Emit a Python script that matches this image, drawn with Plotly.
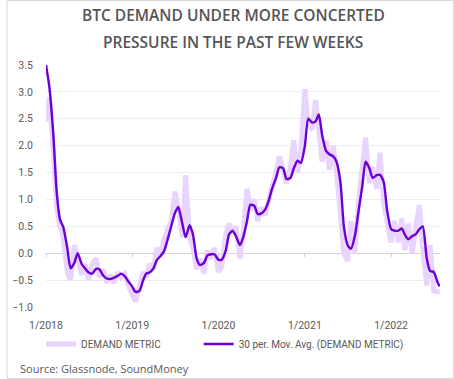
import pandas as pd
import plotly.graph_objects as go

# semi-monthly observation dates (1st and 15th) plus the last reading
dates = list(pd.date_range("2018-01-01", "2022-07-15", freq="SMS").strftime("%Y-%m-%d")) + ["2022-07-25"]

demand_metric = [
    2.45, 2.90, 1.90, 0.85, 0.50, 0.30, -0.35, -0.50, 0.15, -0.10,
    -0.40, -0.20, -0.50, -0.20, -0.10, -0.45, -0.30, -0.55, -0.40, -0.55,
    -0.35, -0.45, -0.38, -0.60, -0.75, -0.90, -0.60, -0.35, -0.45, -0.20,
    -0.30, 0.10, -0.05, 0.25, 0.45, 0.60, 1.15, 0.85, 0.30, 1.45,
    0.30, 0.10, -0.30, -0.10, -0.38, 0.05, -0.10, 0.10, -0.35, -0.25,
    0.35, 0.55, 0.40, 0.50, -0.10, 0.40, 1.20, 0.80, 1.00, 0.60,
    0.85, 0.70, 1.00, 1.20, 1.50, 1.80, 1.50, 1.30, 1.60, 2.10,
    1.50, 1.90, 3.05, 2.40, 2.30, 2.85, 2.30, 1.70, 2.10, 1.55,
    2.00, 1.50, 0.70, 0.00, -0.15, 0.60, 0.00, 0.90, 1.60, 2.15,
    1.30, 1.60, 1.20, 1.87, 0.90, 0.55, 0.20, 0.60, 0.20, 0.65,
    0.05, 0.55, 0.00, 0.50, 0.90, 0.10, -0.60, 0.15, -0.70, -0.72,
    -0.70,
]

moving_avg = [
    3.50, 3.10, 2.20, 1.15, 0.63, 0.49, 0.10, -0.28, -0.18, 0.00,
    -0.20, -0.28, -0.36, -0.38, -0.29, -0.30, -0.42, -0.47, -0.48, -0.46,
    -0.42, -0.38, -0.43, -0.52, -0.62, -0.72, -0.70, -0.52, -0.38, -0.36,
    -0.28, -0.13, -0.05, 0.03, 0.27, 0.50, 0.75, 0.86, 0.55, 0.30,
    0.52, 0.35, -0.10, -0.22, -0.18, -0.04, -0.02, -0.02, -0.12, -0.12,
    0.05, 0.35, 0.42, 0.32, 0.15, 0.30, 0.60, 0.90, 0.88, 0.73,
    0.74, 0.80, 0.98, 1.20, 1.40, 1.60, 1.58, 1.38, 1.40, 1.58,
    1.72, 1.68, 2.00, 2.50, 2.43, 2.45, 2.58, 2.20, 1.90, 1.84,
    1.80, 1.70, 1.30, 0.50, 0.15, 0.08, 0.33, 0.75, 1.25, 1.70,
    1.58, 1.40, 1.45, 1.46, 1.32, 0.80, 0.45, 0.42, 0.42, 0.46,
    0.34, 0.26, 0.32, 0.35, 0.45, 0.50, -0.10, -0.33, -0.35, -0.52,
    -0.62,
]

tick_vals = ["2018-01-01", "2019-01-01", "2020-01-01", "2021-01-01", "2022-01-01"]
tick_text = ["1/2018", "1/2019", "1/2020", "1/2021", "1/2022"]

title_lines = ["BTC DEMAND UNDER MORE CONCERTED", "PRESSURE IN THE PAST FEW WEEKS"]
source_text = "Source: Glassnode, SoundMoney"

GREY = "#595959"
x_range = ["2018-01-01", "2022-07-27"]

fig = go.Figure()
fig.add_trace(go.Scatter(
    x=dates, y=demand_metric, mode="lines", name="DEMAND METRIC",
    line=dict(color="#E8D4FF", width=5), legend="legend",
))
fig.add_trace(go.Scatter(
    x=dates, y=moving_avg, mode="lines", name="30 per. Mov. Avg. (DEMAND METRIC)",
    line=dict(color="#6A00D4", width=2.4, shape="spline", smoothing=0.6), legend="legend2",
))
# invisible helper trace so the tick-mark axis on the zero line is drawn
fig.add_trace(go.Scatter(
    x=dates, y=moving_avg, xaxis="x2", mode="lines", showlegend=False,
    hoverinfo="skip", line=dict(width=0, color="rgba(0,0,0,0)"),
))

legend_common = dict(
    orientation="h", xanchor="left", y=-0.153, yanchor="middle",
    font=dict(family="Roboto", size=10, color=GREY),
    itemwidth=30, bgcolor="rgba(0,0,0,0)",
)

fig.update_layout(
    width=454, height=379,
    margin=dict(l=40, r=14, t=65, b=72),
    paper_bgcolor="white", plot_bgcolor="white",
    showlegend=True,
    font=dict(family="Roboto", size=10.5, color=GREY),
    xaxis=dict(
        type="date", range=x_range, tickvals=tick_vals, ticktext=tick_text,
        showgrid=False, zeroline=False, showline=False,
        ticks="outside", ticklen=8, tickcolor="rgba(0,0,0,0)",
        tickfont=dict(family="Roboto", size=10.5, color=GREY),
    ),
    xaxis2=dict(
        type="date", range=x_range, tickvals=tick_vals, overlaying="x",
        anchor="free", position=1 / 4.5, showticklabels=False,
        showgrid=False, zeroline=False, showline=False,
        ticks="outside", ticklen=3, tickcolor="#CFCFCF", tickwidth=1,
    ),
    yaxis=dict(
        range=[-1.0, 3.5], dtick=0.5, tick0=0, tickformat=".1f",
        showgrid=True, gridcolor="#EDEDED", gridwidth=1,
        zeroline=True, zerolinecolor="#D4D4D4", zerolinewidth=1,
        showline=False, ticks="outside", ticklen=10, tickcolor="rgba(0,0,0,0)",
        tickfont=dict(family="Roboto", size=10.5, color=GREY),
    ),
    legend=dict(x=-0.0125, **legend_common),
    legend2=dict(x=0.3875, **legend_common),
    annotations=[
        dict(text=title_lines[0], xref="paper", yref="paper", x=0.475, y=1.2066,
             xanchor="center", yanchor="middle", showarrow=False,
             font=dict(family="Open Sans", size=15.5, color="#555555", weight=600)),
        dict(text=title_lines[1], xref="paper", yref="paper", x=0.475, y=1.095,
             xanchor="center", yanchor="middle", showarrow=False,
             font=dict(family="Open Sans", size=15.5, color="#555555", weight=600)),
        dict(text=source_text, xref="paper", yref="paper", x=-0.07, y=-0.256,
             xanchor="left", yanchor="middle", showarrow=False,
             font=dict(family="Open Sans", size=11, color=GREY)),
    ],
    shapes=[
        dict(type="rect", xref="paper", yref="paper",
             x0=-0.09875, x1=1.03375, y0=-0.2955, y1=1.2665,
             line=dict(color="#D9D9D9", width=1), fillcolor="rgba(0,0,0,0)", layer="below"),
    ],
)

fig.write_html(
    "out.html",
    config={"displayModeBar": False},
    post_script="document.body.style.margin='0';document.body.style.overflow='hidden';",
)
